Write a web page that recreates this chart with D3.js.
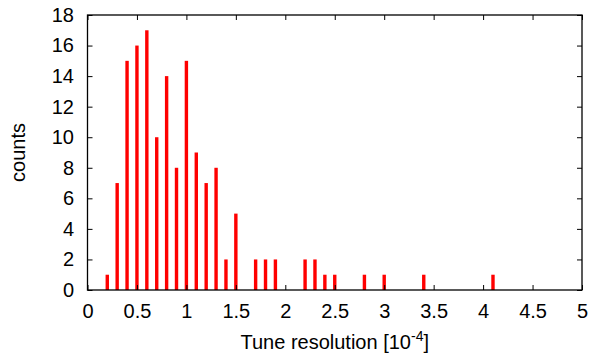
<!DOCTYPE html>
<html>
<head>
<meta charset="utf-8">
<script src="https://cdn.jsdelivr.net/npm/d3@7"></script>
<style>
  body { margin: 0; background: #fff; }
  text { font-family: "Liberation Sans", Arial, sans-serif; fill: #000; }
</style>
</head>
<body>
<div id="chart"></div>
<script>
// histogram bins (tune resolution, units of 1e-4) and counts
var binCenters = [0.2, 0.3, 0.4, 0.5, 0.6, 0.7, 0.8, 0.9, 1.0, 1.1, 1.2, 1.3, 1.4, 1.5,
                  1.7, 1.8, 1.9, 2.2, 2.3, 2.4, 2.5, 2.8, 3.0, 3.4, 4.1];
var counts = [1, 7, 15, 16, 17, 10, 14, 8, 15, 9, 7, 8, 2, 5,
              2, 2, 2, 2, 2, 1, 1, 1, 1, 1, 1];
var xTicks = [0, 0.5, 1, 1.5, 2, 2.5, 3, 3.5, 4, 4.5, 5];
var yTicks = [0, 2, 4, 6, 8, 10, 12, 14, 16, 18];

var width = 592,
    height = 360,
    margin = { top: 15, right: 10, bottom: 70, left: 87.5 },
    plotW = 582 - margin.left,
    plotH = 290 - margin.top,
    barW = 3.4,
    tickLen = 5,
    fontSize = 20;

var svg = d3.select("#chart").append("svg")
    .attr("width", width)
    .attr("height", height);

var g = svg.append("g")
    .attr("transform", "translate(" + margin.left + "," + margin.top + ")");

var x = d3.scaleLinear().domain([0, 5]).range([0, plotW]);
var y = d3.scaleLinear().domain([0, 18]).range([plotH, 0]);

// bars
g.selectAll("rect.bar")
    .data(binCenters)
    .enter().append("rect")
    .attr("class", "bar")
    .attr("x", function (d) { return x(d) - barW / 2; })
    .attr("y", function (d, i) { return y(counts[i]); })
    .attr("width", barW)
    .attr("height", function (d, i) { return plotH - y(counts[i]); })
    .style("fill", "#ff0000");

// axes with inward ticks, mirrored on top and right
function styleAxis(sel) {
    sel.select(".domain").remove();
    sel.selectAll(".tick line").attr("stroke", "#000").attr("stroke-width", 1);
    sel.selectAll(".tick text").style("font-size", fontSize + "px")
        .style("font-family", "'Liberation Sans', Arial, sans-serif");
}

var fmt = function (d) { return d3.format("")(d); };

g.append("g")
    .attr("transform", "translate(0," + plotH + ")")
    .call(d3.axisBottom(x).tickValues(xTicks).tickFormat(fmt).tickSizeInner(-tickLen).tickSizeOuter(0).tickPadding(14))
    .call(styleAxis);

g.append("g")
    .call(d3.axisTop(x).tickValues(xTicks).tickFormat("").tickSizeInner(-tickLen).tickSizeOuter(0))
    .call(styleAxis);

g.append("g")
    .call(d3.axisLeft(y).tickValues(yTicks).tickFormat(fmt).tickSizeInner(-tickLen).tickSizeOuter(0).tickPadding(13.5))
    .call(styleAxis);

g.append("g")
    .attr("transform", "translate(" + plotW + ",0)")
    .call(d3.axisRight(y).tickValues(yTicks).tickFormat("").tickSizeInner(-tickLen).tickSizeOuter(0))
    .call(styleAxis);

// frame
g.append("rect")
    .attr("x", 0).attr("y", 0)
    .attr("width", plotW).attr("height", plotH)
    .style("fill", "none")
    .style("stroke", "#000")
    .style("stroke-width", 1.3);

// axis labels
var xl = svg.append("text")
    .attr("x", margin.left + plotW / 2)
    .attr("y", 349)
    .attr("text-anchor", "middle")
    .style("font-size", fontSize + "px");
xl.append("tspan").text("Tune resolution [10");
xl.append("tspan").attr("dy", -8).style("font-size", "14px").text("-4");
xl.append("tspan").attr("dy", 8).text("]");

svg.append("text")
    .attr("transform", "translate(25," + (margin.top + plotH / 2) + ") rotate(-90)")
    .attr("text-anchor", "middle")
    .style("font-size", fontSize + "px")
    .text("counts");
</script>
</body>
</html>
